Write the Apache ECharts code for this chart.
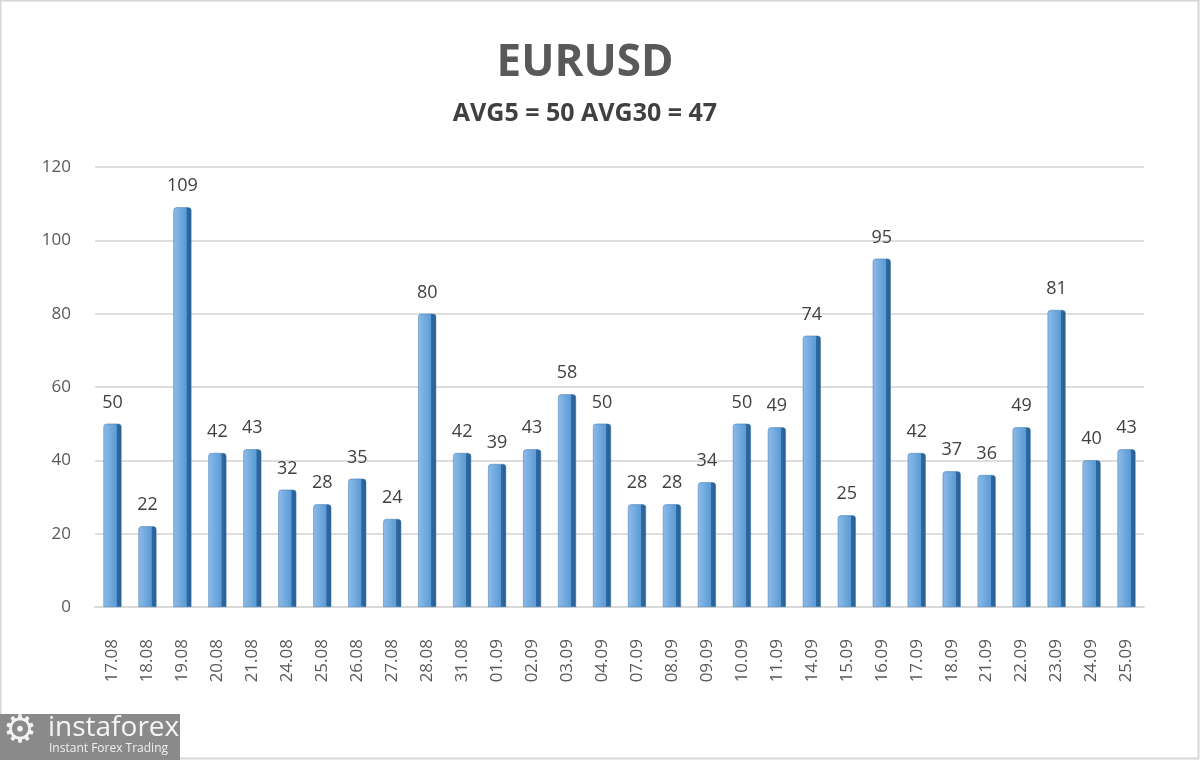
<!DOCTYPE html>
<html>
<head>
<meta charset="utf-8">
<script src="https://cdn.jsdelivr.net/npm/echarts@6/dist/echarts.min.js"></script>
<style>
  html, body { margin: 0; padding: 0; background: #fff; }
  #chart { width: 1200px; height: 760px; }
</style>
</head>
<body>
<div id="chart"></div>
<script>
// dates on the x axis
var days = ['17.08','18.08','19.08','20.08','21.08','24.08','25.08','26.08','27.08','28.08',
            '31.08','01.09','02.09','03.09','04.09','07.09','08.09','09.09','10.09','11.09',
            '14.09','15.09','16.09','17.09','18.09','21.09','22.09','23.09','24.09','25.09'];
// daily volatility, points
var values = [50,22,109,42,43,32,28,35,24,80,
              42,39,43,58,50,28,28,34,50,49,
              74,25,95,42,37,36,49,81,40,43];
var yTicks = [0, 20, 40, 60, 80, 100, 120];

var titleText = 'EURUSD';
var subText = 'AVG5 = 50 AVG30 = 47';

var myChart = echarts.init(document.getElementById('chart'));

// bar fill: light front face + dark right side, to mimic the 3d excel bars
var barFill = new echarts.graphic.LinearGradient(0, 0, 1, 0, [
    {offset: 0, color: '#8dbbe8'},
    {offset: 0.72, color: '#5b9bd5'},
    {offset: 0.74, color: '#2f6aa3'},
    {offset: 1, color: '#295d90'}
]);

var option = {
    backgroundColor: '#fff',
    animation: false,
    title: {
        text: titleText,
        subtext: subText,
        left: 580,
        textAlign: 'center',
        top: 36,
        itemGap: 16,
        textStyle: {
            fontFamily: 'Open Sans',
            fontSize: 44,
            fontWeight: 'bold',
            color: '#595959'
        },
        subtextStyle: {
            fontFamily: 'Open Sans',
            fontSize: 25,
            fontWeight: 'bold',
            color: '#404040'
        }
    },
    grid: {
        left: 95,
        right: 56,
        top: 167,
        bottom: 153
    },
    xAxis: {
        type: 'category',
        data: days,
        axisLine: {show: true, lineStyle: {color: '#d9d9d9', width: 2}},
        axisTick: {show: false},
        axisLabel: {
            rotate: 90,
            margin: 32,
            fontFamily: 'Open Sans',
            fontSize: 17,
            color: '#595959',
            interval: 0
        }
    },
    yAxis: {
        type: 'value',
        min: yTicks[0],
        max: yTicks[yTicks.length - 1],
        interval: 20,
        axisLine: {show: false},
        axisTick: {show: false},
        axisLabel: {
            margin: 24,
            fontFamily: 'Open Sans',
            fontSize: 17,
            color: '#595959'
        },
        splitLine: {lineStyle: {color: '#dedede', width: 2}}
    },
    series: [{
        name: 'EURUSD',
        type: 'bar',
        data: values,
        barWidth: 18,
        itemStyle: {
            color: barFill,
            borderColor: '#3f78b0',
            borderWidth: 0.5,
            borderRadius: [3, 3, 0, 0]
        },
        label: {
            show: true,
            position: 'top',
            distance: 12,
            fontFamily: 'Open Sans',
            fontSize: 18,
            color: '#404040'
        }
    }],
    graphic: [
        {
            type: 'rect',
            shape: {x: 0.5, y: 0.5, width: 1198, height: 758},
            style: {fill: 'none', stroke: '#d6d6d6', lineWidth: 2},
            silent: true
        },
        {
            type: 'rect',
            shape: {x: 0, y: 714, width: 180, height: 46},
            style: {fill: '#8a8a8a'},
            silent: true
        },
        {
            type: 'text',
            left: 3,
            top: 713,
            style: {text: '\u2699', fontFamily: 'DejaVu Sans', fontSize: 38, fill: '#f2f2f2'},
            silent: true
        },
        {
            type: 'text',
            left: 48,
            top: 714,
            style: {text: 'instaforex', fontFamily: 'Open Sans', fontSize: 28, fill: '#f5f5f5'},
            silent: true
        },
        {
            type: 'text',
            left: 49,
            top: 743,
            style: {text: 'Instant Forex Trading', fontFamily: 'Open Sans', fontSize: 12, fill: '#f0f0f0'},
            silent: true
        }
    ]
};

myChart.setOption(option);
</script>
</body>
</html>
